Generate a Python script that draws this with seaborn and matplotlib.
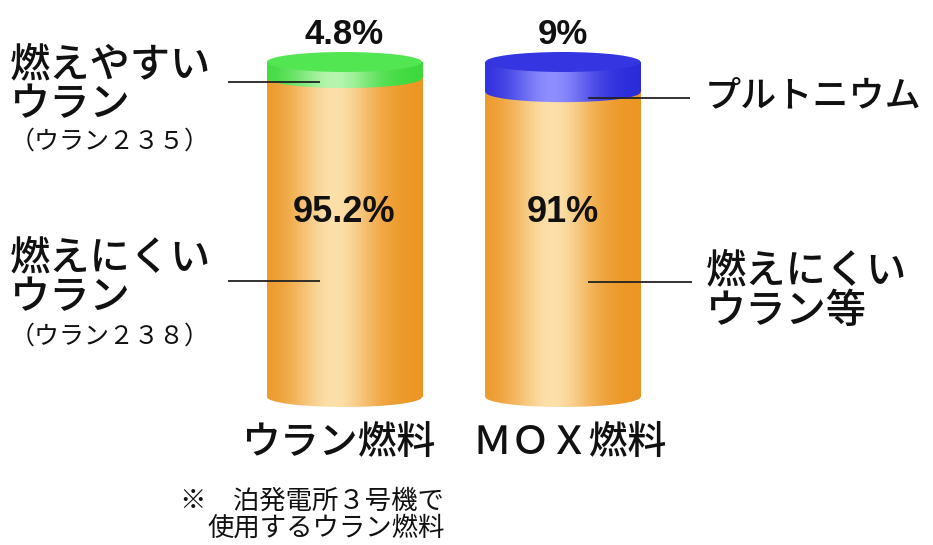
import numpy as np
import pandas as pd
import matplotlib
matplotlib.use("Agg")
import matplotlib.pyplot as plt
import seaborn as sns
from matplotlib.patches import Ellipse
from matplotlib.colors import to_rgb

# ---- data ----
categories = ["ウラン燃料", "ＭＯＸ燃料"]
fissile_pct = [4.8, 9.0]        # 燃えやすいウラン / プルトニウム
other_pct = [95.2, 91.0]        # 燃えにくいウラン
fissile_labels = ["4.8%", "9%"]
other_labels = ["95.2%", "91%"]

sns.set_theme(style="white")
JP = ['Noto Sans CJK JP', 'DejaVu Sans']
plt.rcParams['font.family'] = JP

fig = plt.figure(figsize=(9.33, 5.45), dpi=100)
ax = fig.add_axes([0, 0, 1, 1])

# pixel -> data helpers (for annotation placement)
X0, DX = 344.5, 218.5     # bar 0 centre pixel, spacing
Y0, DY = 397.0, 3.35      # y=0 pixel, pixels per percent
def px2x(p): return (p - X0) / DX
def px2y(p): return (Y0 - p) / DY

total = [f + o for f, o in zip(fissile_pct, other_pct)]
df = pd.DataFrame({"cat": categories, "total": total, "other": other_pct})
W = 0.71
sns.barplot(data=df, x="cat", y="total", width=W, color="white", ax=ax)
sns.barplot(data=df, x="cat", y="other", width=W, color="white", ax=ax)
full_bars = ax.patches[:2]
orange_bars = ax.patches[2:4]
for p in ax.patches:
    p.set_facecolor("none"); p.set_edgecolor("none")

ORANGE = ("#EC9522", "#FCE0AA")
TOPC = [("#3BD93B", "#B5F5AE"), ("#2A2ADB", "#8E8EFF")]
TOPFACE = ["#52E652", "#3535E2"]

def grad(dark, light, n=256):
    t = np.linspace(0, 1, n)
    f = np.exp(-((t - 0.43) / 0.27) ** 2)
    d = np.array(to_rgb(dark)); l = np.array(to_rgb(light))
    return (d[None, :] + (l - d)[None, :] * f[:, None])[None, :, :]

ELL_H = 20 / DY

def fill(patch, x0, x1, y0, y1, cols, z):
    ax.add_patch(patch)
    im = ax.imshow(grad(*cols), extent=(x0, x1, y0, y1), aspect='auto',
                   zorder=z, interpolation='bilinear')
    im.set_clip_path(patch)

cat_offsets_px = [-6.5, 7.0]
for i in range(len(categories)):
    fb, ob = full_bars[i], orange_bars[i]
    x0 = fb.get_x(); x1 = x0 + fb.get_width(); xc = (x0 + x1) / 2
    top = fb.get_y() + fb.get_height()
    mid = ob.get_y() + ob.get_height()
    # top-colour body
    im = ax.imshow(grad(*TOPC[i]), extent=(x0, x1, 0, top), aspect='auto',
                   zorder=1, interpolation='bilinear')
    im.set_clip_path(fb)
    # orange body
    im = ax.imshow(grad(*ORANGE), extent=(x0, x1, 0, mid), aspect='auto',
                   zorder=2, interpolation='bilinear')
    im.set_clip_path(ob)
    # bottom rim
    e = Ellipse((xc, 0), x1 - x0, ELL_H, facecolor='none', edgecolor='none')
    fill(e, x0, x1, -ELL_H, ELL_H, ORANGE, 2)
    # boundary rim
    e = Ellipse((xc, mid), x1 - x0, ELL_H, facecolor='none', edgecolor='none')
    fill(e, x0, x1, mid - ELL_H, mid + ELL_H, TOPC[i], 3)
    # top face
    ax.add_patch(Ellipse((xc, top), x1 - x0, ELL_H, facecolor=TOPFACE[i],
                         edgecolor='none', zorder=4))
    # value labels
    ax.text(xc, top + 8.2, fissile_labels[i], ha='center', va='center',
            fontsize=25, fontweight='bold', family=['Liberation Sans'], color='#111111', zorder=6)
    ax.text(xc, px2y(213), other_labels[i], ha='center', va='center',
            fontsize=26, fontweight='bold', family=['Liberation Sans'], color='#111111', zorder=6)
    # category labels
    ax.text(xc + cat_offsets_px[i] / DX, px2y(443), categories[i],
            ha='center', va='center', fontsize=28, fontweight='medium',
            family=JP, color='#111111')

# side annotations
big = dict(fontsize=29, fontweight='medium', family=JP, color='#111111',
           ha='left', va='center')
small = dict(fontsize=18, family=JP, color='#111111', ha='left', va='center')
ax.text(px2x(10), px2y(65), "燃えやすい", **big)
ax.text(px2x(10), px2y(105), "ウラン", **big)
ax.text(px2x(10), px2y(142), "（ウラン２３５）", **small)
ax.text(px2x(10), px2y(258), "燃えにくい", **big)
ax.text(px2x(10), px2y(298), "ウラン", **big)
ax.text(px2x(10), px2y(337), "（ウラン２３８）", **small)
ax.text(px2x(705), px2y(96), "プルトニウム", **{**big, 'fontsize': 26})
ax.text(px2x(706), px2y(271), "燃えにくい", **big)
ax.text(px2x(706), px2y(311), "ウラン等", **big)

lk = dict(color='#222222', lw=1.3, zorder=7, solid_capstyle='butt')
ax.plot([px2x(228), px2x(320)], [px2y(82), px2y(82)], **lk)
ax.plot([px2x(228), px2x(320)], [px2y(281), px2y(281)], **lk)
ax.plot([px2x(588), px2x(690)], [px2y(98), px2y(98)], **lk)
ax.plot([px2x(588), px2x(692)], [px2y(282), px2y(282)], **lk)

# footnote
ax.text(px2x(180), px2y(501), "※　泊発電所３号機で", fontsize=19, family=JP,
        color='#111111', ha='left', va='center')
ax.text(px2x(207), px2y(528), "使用するウラン燃料", fontsize=19, family=JP,
        color='#111111', ha='left', va='center')

ax.set_xlim(px2x(0), px2x(933))
ax.set_ylim(px2y(545), px2y(0))
ax.axis('off')
fig.savefig("out.png", dpi=100, facecolor='white')
